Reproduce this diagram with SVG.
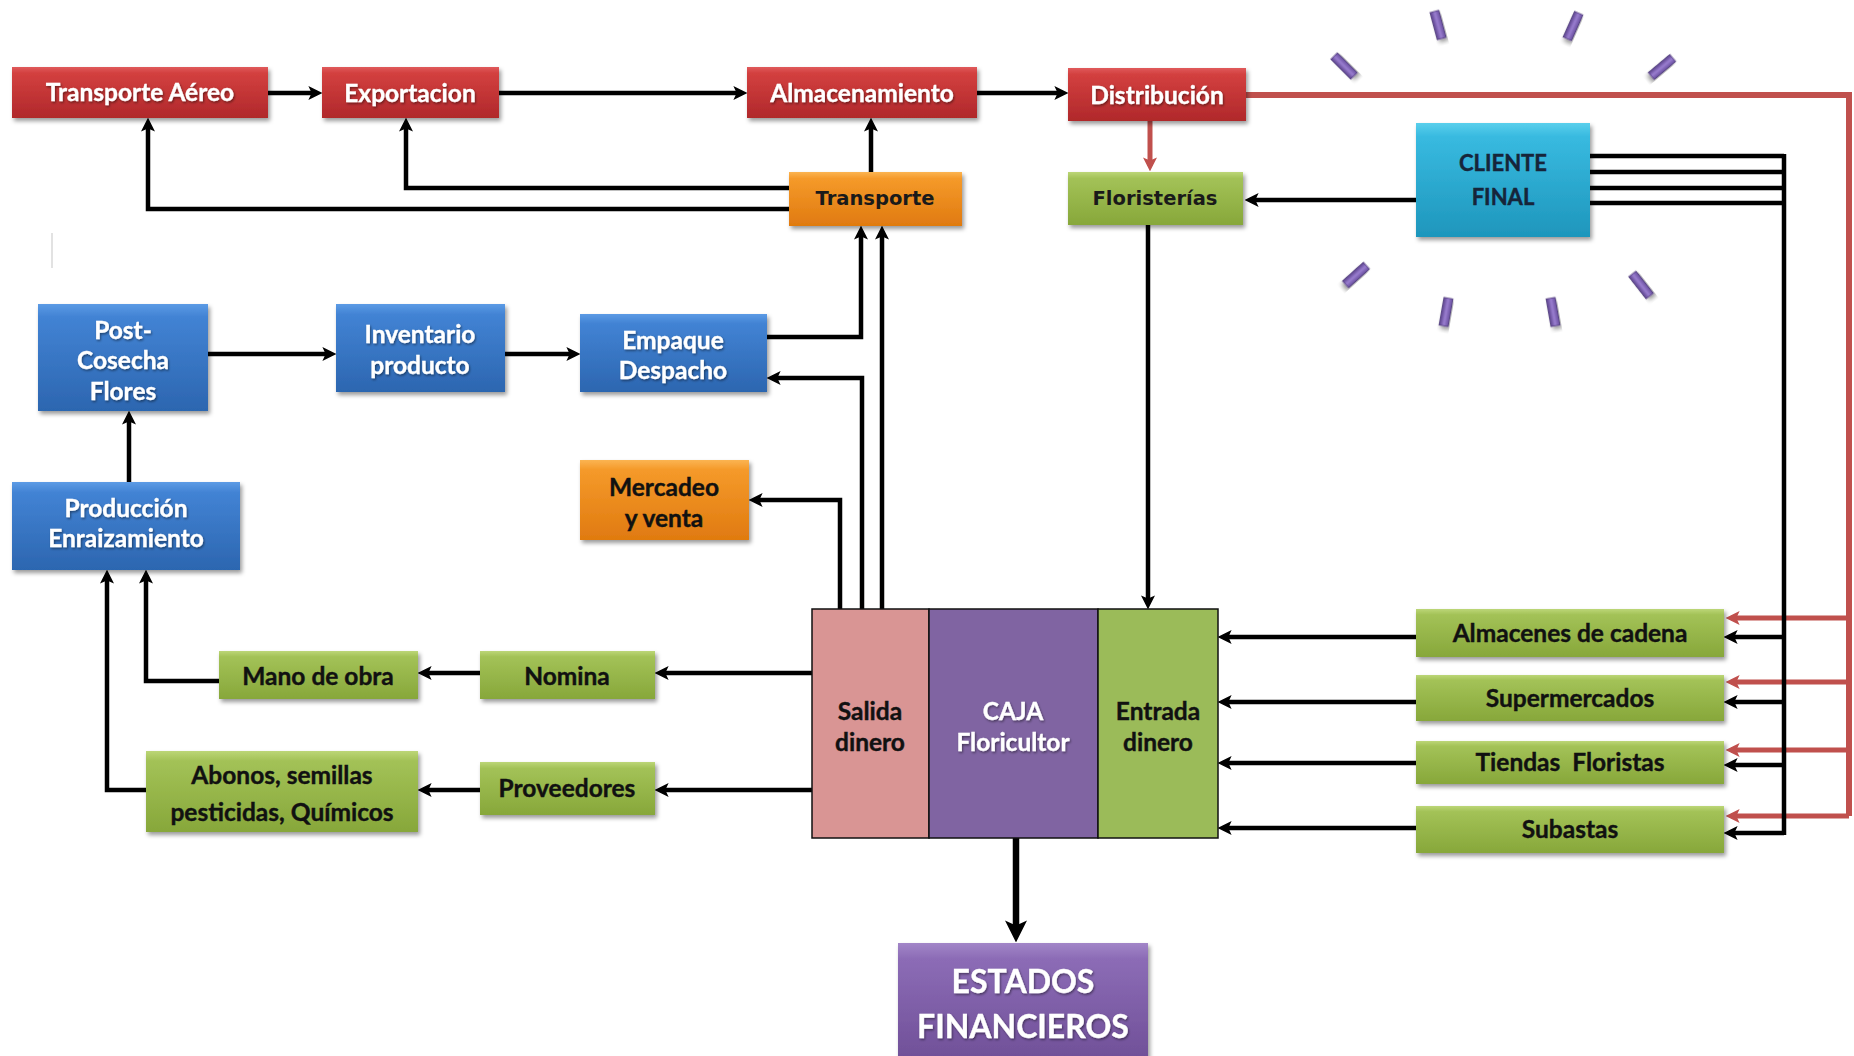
<svg xmlns="http://www.w3.org/2000/svg" width="1854" height="1056" viewBox="0 0 1854 1056">
<defs>
<linearGradient id="gRed" x1="0" y1="0" x2="0" y2="1"><stop offset="0" stop-color="#E05A5C"/><stop offset="0.12" stop-color="#D3403F"/><stop offset="1" stop-color="#B0282B"/></linearGradient>
<linearGradient id="gOrange" x1="0" y1="0" x2="0" y2="1"><stop offset="0" stop-color="#FBB452"/><stop offset="0.12" stop-color="#F59A2A"/><stop offset="1" stop-color="#E07A10"/></linearGradient>
<linearGradient id="gGreen" x1="0" y1="0" x2="0" y2="1"><stop offset="0" stop-color="#BCD677"/><stop offset="0.12" stop-color="#A3C257"/><stop offset="1" stop-color="#87A73A"/></linearGradient>
<linearGradient id="gBlue" x1="0" y1="0" x2="0" y2="1"><stop offset="0" stop-color="#5C9BE5"/><stop offset="0.12" stop-color="#4283D4"/><stop offset="1" stop-color="#2C66B0"/></linearGradient>
<linearGradient id="gCyan" x1="0" y1="0" x2="0" y2="1"><stop offset="0" stop-color="#5ACFEC"/><stop offset="0.12" stop-color="#38BAE0"/><stop offset="1" stop-color="#1E96BC"/></linearGradient>
<linearGradient id="gPurple" x1="0" y1="0" x2="0" y2="1"><stop offset="0" stop-color="#A286C8"/><stop offset="0.12" stop-color="#8C6CB6"/><stop offset="1" stop-color="#6C4C94"/></linearGradient>
<linearGradient id="gDash" x1="0" y1="0" x2="1" y2="0"><stop offset="0" stop-color="#5B428C"/><stop offset="0.5" stop-color="#9A7ED0"/><stop offset="1" stop-color="#6A50A0"/></linearGradient>
<filter id="shadow" x="-10%" y="-10%" width="125%" height="135%"><feDropShadow dx="2" dy="3" stdDeviation="2" flood-color="#000" flood-opacity="0.4"/></filter>
<filter id="tshadow" x="-5%" y="-20%" width="115%" height="150%"><feDropShadow dx="1" dy="1.5" stdDeviation="0.8" flood-color="#000" flood-opacity="0.45"/></filter>
<marker id="arr" viewBox="0 0 13 13" refX="8" refY="6.5" markerWidth="14" markerHeight="14" markerUnits="userSpaceOnUse" orient="auto"><path d="M0,0 L13,6.5 L0,13 L3,6.5 z" fill="#000"/></marker>
<marker id="arrBig" viewBox="0 0 13 13" refX="8" refY="6.5" markerWidth="22" markerHeight="22" markerUnits="userSpaceOnUse" orient="auto"><path d="M0,0 L13,6.5 L0,13 L3,6.5 z" fill="#000"/></marker>
<marker id="arrR" viewBox="0 0 13 13" refX="8" refY="6.5" markerWidth="14" markerHeight="14" markerUnits="userSpaceOnUse" orient="auto"><path d="M0,0 L13,6.5 L0,13 L3,6.5 z" fill="#C0504D"/></marker>
<style>
.box{filter:url(#shadow);}
.red{fill:url(#gRed);}
.orange{fill:url(#gOrange);}
.green{fill:url(#gGreen);}
.blue{fill:url(#gBlue);}
.cyan{fill:url(#gCyan);}
.purple{fill:url(#gPurple);}
.t{font-family:Lato,"Liberation Sans",sans-serif;font-weight:bold;font-size:24.5px;text-anchor:middle;}
.tw{fill:#fff;stroke:#fff;stroke-width:0.3;filter:url(#tshadow);}
.td{fill:#111;stroke:#111;stroke-width:0.4;}
.tv{font-family:"DejaVu Sans","Liberation Sans",sans-serif;font-weight:bold;font-size:19.5px;text-anchor:middle;fill:#1a1a1a;}
.ln{fill:none;stroke:#000;stroke-width:4.5;marker-end:url(#arr);}
.lnp{fill:none;stroke:#000;stroke-width:4.5;}
.rl{fill:none;stroke:#C0504D;stroke-width:6;}
.rla{fill:none;stroke:#C0504D;stroke-width:5;marker-end:url(#arrR);}
.dash{fill:url(#gDash);stroke:#4E3A7A;stroke-width:0.8;filter:url(#shadow);}
</style>
</defs>
<rect x="0" y="0" width="1854" height="1056" fill="#fff"/>
<line x1="52" y1="233" x2="52" y2="268" stroke="#d8d8d8" stroke-width="1.5"/>

<g id="decor">
<rect class="dash" x="-4.5" y="-14" width="9" height="28" transform="translate(1344,66) rotate(-45)"/>
<rect class="dash" x="-4.5" y="-14" width="9" height="28" transform="translate(1438,25) rotate(-15)"/>
<rect class="dash" x="-4.5" y="-14" width="9" height="28" transform="translate(1573,26) rotate(24)"/>
<rect class="dash" x="-4.5" y="-14" width="9" height="28" transform="translate(1662,67) rotate(50)"/>
<rect class="dash" x="-4.5" y="-14" width="9" height="28" transform="translate(1356,275) rotate(48)"/>
<rect class="dash" x="-4.5" y="-14" width="9" height="28" transform="translate(1641,285) rotate(-38)"/>
<rect class="dash" x="-4.5" y="-14" width="9" height="28" transform="translate(1446,312) rotate(10)"/>
<rect class="dash" x="-4.5" y="-14" width="9" height="28" transform="translate(1553,312) rotate(-10)"/>
</g>

<g id="connectors">
<path class="ln" d="M268,93 H317"/>
<path class="ln" d="M499,93 H742"/>
<path class="ln" d="M977,93 H1063"/>
<path class="ln" d="M871,172 V123"/>
<path class="ln" d="M789,188 H406 V123"/>
<path class="ln" d="M789,209 H148 V123"/>
<path class="rl" d="M1246,95 H1849 V816"/>
<path class="rla" d="M1150,121 V166"/>
<path class="rla" d="M1849,618 H1731"/>
<path class="rla" d="M1849,682 H1731"/>
<path class="rla" d="M1849,750 H1731"/>
<path class="rla" d="M1849,816 H1731"/>
<path class="ln" d="M1416,200 H1250"/>
<path class="lnp" d="M1590,156 H1784 M1590,172 H1784 M1590,188 H1784 M1590,203 H1784 M1784,154 V835"/>
<path class="ln" d="M1784,637 H1729"/>
<path class="ln" d="M1784,702 H1729"/>
<path class="ln" d="M1784,765 H1729"/>
<path class="ln" d="M1784,833 H1729"/>
<path class="ln" d="M1148,225 V604"/>
<path class="ln" d="M208,354 H331"/>
<path class="ln" d="M505,354 H575"/>
<path class="ln" d="M129,482 V416"/>
<path class="ln" d="M767,337 H861 V231"/>
<path class="ln" d="M882,609 V231"/>
<path class="ln" d="M862,609 V378 H772"/>
<path class="ln" d="M840,609 V500 H754"/>
<path class="ln" d="M812,673 H660"/>
<path class="ln" d="M480,673 H423"/>
<path class="ln" d="M812,790 H660"/>
<path class="ln" d="M480,790 H423"/>
<path class="ln" d="M219,681 H146 V575"/>
<path class="ln" d="M146,790 H107 V575"/>
<path class="ln" d="M1416,637 H1223"/>
<path class="ln" d="M1416,702 H1223"/>
<path class="ln" d="M1416,763 H1223"/>
<path class="ln" d="M1416,828 H1223"/>
<path d="M1016,838 V934" fill="none" stroke="#000" stroke-width="6.5" marker-end="url(#arrBig)"/>
</g>

<g id="n-transporte-aereo"><rect class="box red" x="12" y="67" width="256" height="51"/><text class="t tw" x="140" y="101">Transporte Aéreo</text></g>
<g id="n-exportacion"><rect class="box red" x="322" y="67" width="177" height="51"/><text class="t tw" x="410" y="102">Exportacion</text></g>
<g id="n-almacenamiento"><rect class="box red" x="747" y="67" width="230" height="51"/><text class="t tw" x="862" y="102">Almacenamiento</text></g>
<g id="n-distribucion"><rect class="box red" x="1068" y="68" width="178" height="53"/><text class="t tw" x="1157" y="104">Distribución</text></g>
<g id="n-transporte"><rect class="box orange" x="789" y="172" width="173" height="54"/><text class="tv" x="875" y="205">Transporte</text></g>
<g id="n-floristerias"><rect class="box green" x="1068" y="172" width="175" height="53"/><text class="tv" x="1155" y="205">Floristerías</text></g>
<g id="n-cliente-final"><rect class="box cyan" x="1416" y="123" width="174" height="114"/><text class="t" style="font-size:22px" fill="#16253A" stroke="#16253A" stroke-width="0.4" x="1503" y="171">CLIENTE</text><text class="t" style="font-size:22px" fill="#16253A" stroke="#16253A" stroke-width="0.4" x="1503" y="205">FINAL</text></g>
<g id="n-post-cosecha"><rect class="box blue" x="38" y="304" width="170" height="107"/><text class="t tw" x="123" y="339">Post-</text><text class="t tw" x="123" y="369">Cosecha</text><text class="t tw" x="123" y="400">Flores</text></g>
<g id="n-inventario"><rect class="box blue" x="336" y="304" width="169" height="88"/><text class="t tw" x="420" y="343">Inventario</text><text class="t tw" x="420" y="374">producto</text></g>
<g id="n-empaque"><rect class="box blue" x="580" y="314" width="187" height="78"/><text class="t tw" x="673" y="349">Empaque</text><text class="t tw" x="673" y="379">Despacho</text></g>
<g id="n-mercadeo"><rect class="box orange" x="580" y="460" width="169" height="80"/><text class="t td" x="664" y="496">Mercadeo</text><text class="t td" x="664" y="527">y venta</text></g>
<g id="n-produccion"><rect class="box blue" x="12" y="482" width="228" height="88"/><text class="t tw" x="126" y="517">Producción</text><text class="t tw" x="126" y="547">Enraizamiento</text></g>
<g id="n-mano-obra"><rect class="box green" x="219" y="651" width="199" height="48"/><text class="t td" x="318" y="685">Mano de obra</text></g>
<g id="n-nomina"><rect class="box green" x="480" y="651" width="175" height="48"/><text class="t td" x="567" y="685">Nomina</text></g>
<g id="n-abonos"><rect class="box green" x="146" y="751" width="272" height="81"/><text class="t td" x="282" y="784">Abonos, semillas</text><text class="t td" x="282" y="821">pesticidas, Químicos</text></g>
<g id="n-proveedores"><rect class="box green" x="480" y="762" width="175" height="53"/><text class="t td" x="567" y="797">Proveedores</text></g>
<g id="n-caja">
<rect x="812" y="609" width="117" height="229" fill="#D99594" stroke="#111" stroke-width="1.5"/>
<rect x="929" y="609" width="169" height="229" fill="#8064A2" stroke="#111" stroke-width="1.5"/>
<rect x="1098" y="609" width="120" height="229" fill="#9BBB59" stroke="#111" stroke-width="1.5"/>
<text class="t td" x="870" y="720">Salida</text><text class="t td" x="870" y="751">dinero</text>
<text class="t tw" x="1013" y="720">CAJA</text><text class="t tw" x="1013" y="751">Floricultor</text>
<text class="t td" x="1158" y="720">Entrada</text><text class="t td" x="1158" y="751">dinero</text>
</g>
<g id="n-estados"><rect class="box purple" x="898" y="943" width="250" height="130"/><text class="t tw" style="font-size:32px" x="1023" y="993">ESTADOS</text><text class="t tw" style="font-size:32px" x="1023" y="1038">FINANCIEROS</text></g>
<g id="n-almacenes"><rect class="box green" x="1416" y="609" width="308" height="48"/><text class="t td" x="1570" y="642">Almacenes de cadena</text></g>
<g id="n-supermercados"><rect class="box green" x="1416" y="675" width="308" height="46"/><text class="t td" x="1570" y="707">Supermercados</text></g>
<g id="n-tiendas"><rect class="box green" x="1416" y="741" width="308" height="43"/><text class="t td" x="1570" y="771" xml:space="preserve">Tiendas  Floristas</text></g>
<g id="n-subastas"><rect class="box green" x="1416" y="806" width="308" height="47"/><text class="t td" x="1570" y="838">Subastas</text></g>
</svg>
